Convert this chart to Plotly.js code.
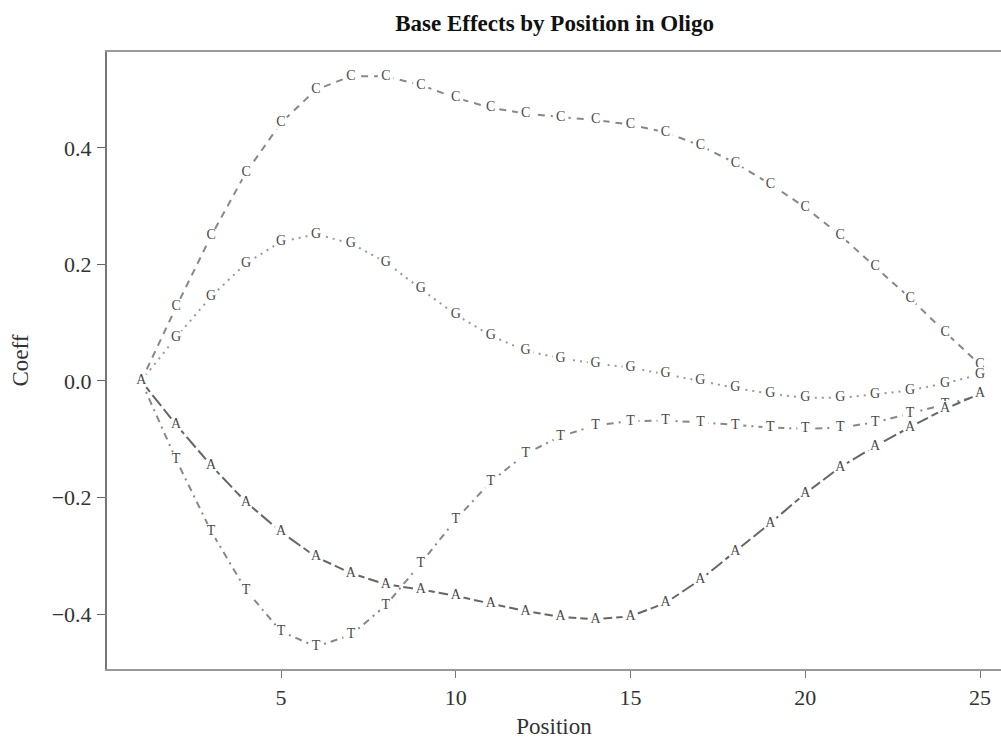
<!DOCTYPE html>
<html>
<head>
<meta charset="utf-8">
<script src="https://cdn.plot.ly/plotly-3.0.1.min.js"></script>
<style>html,body{margin:0;padding:0;background:#fff;overflow:hidden}</style>
</head>
<body>
<div id="chart" style="width:1001px;height:742px"></div>
<script>
const positions = [1,2,3,4,5,6,7,8,9,10,11,12,13,14,15,16,17,18,19,20,21,22,23,24,25];
const coefA = [0,-0.075,-0.145,-0.208,-0.259,-0.302,-0.330,-0.349,-0.358,-0.369,-0.382,-0.395,-0.405,-0.409,-0.404,-0.381,-0.341,-0.293,-0.244,-0.193,-0.148,-0.112,-0.079,-0.048,-0.022];
const coefC = [0,0.127,0.249,0.358,0.443,0.500,0.523,0.523,0.508,0.486,0.469,0.459,0.453,0.448,0.440,0.427,0.404,0.374,0.338,0.298,0.250,0.196,0.142,0.084,0.028];
const coefG = [0,0.075,0.145,0.202,0.239,0.252,0.236,0.204,0.158,0.114,0.078,0.052,0.039,0.030,0.023,0.012,0.000,-0.012,-0.022,-0.029,-0.029,-0.023,-0.016,-0.004,0.011];
const coefT = [0,-0.135,-0.258,-0.359,-0.430,-0.456,-0.436,-0.385,-0.313,-0.238,-0.173,-0.125,-0.095,-0.076,-0.069,-0.068,-0.071,-0.076,-0.080,-0.082,-0.080,-0.071,-0.056,-0.040,-0.025];
const seriesNames = ['C','G','T','A'];

const serif = 'Liberation Serif, DejaVu Serif, serif';
function mk(name, y, dash, color) {
  return {
    x: positions, y: y, name: name,
    mode: 'lines+markers+text',
    text: positions.map(() => name),
    textposition: 'middle center',
    textfont: {family: serif, size: 14, color: '#4a4a4a'},
    marker: {color: 'rgba(255,255,255,1)', size: 16, symbol: 'circle', line: {width: 0}},
    line: {color: color, width: 2, dash: dash},
    cliponaxis: false,
    hoverinfo: 'x+y+name'
  };
}
const traces = [
  mk(seriesNames[0], coefC, '7px,6px', '#888'),
  mk(seriesNames[1], coefG, '2px,5px', '#999'),
  mk(seriesNames[2], coefT, '7px,5px,2px,5px', '#888'),
  mk(seriesNames[3], coefA, '14px,4px', '#666')
];
const layout = {
  width: 1001, height: 742,
  margin: {l: 107, r: 0, t: 52, b: 73, pad: 0},
  paper_bgcolor: '#fff', plot_bgcolor: '#fff',
  showlegend: false,
  title: {text: '<b>Base Effects by Position in Oligo</b>', font: {family: serif, size: 23, color: '#111'}, x: 0.554, xanchor: 'center', y: 0.969, yanchor: 'middle'},
  xaxis: {
    range: [0.0215, 25.60], tickvals: [5,10,15,20,25], ticktext: ['5','10','15','20','25'],
    showgrid: false, zeroline: false,
    showline: true, linecolor: '#999', linewidth: 2, mirror: true,
    ticks: 'outside', ticklen: 7, tickwidth: 1, tickcolor: '#777',
    ticklabelstandoff: 1,
    tickfont: {family: serif, size: 22, color: '#333'},
    title: {text: 'Position', font: {family: serif, size: 23, color: '#333'}, standoff: 8}
  },
  yaxis: {
    range: [-0.4944, 0.5647], tickvals: [-0.4,-0.2,0,0.2,0.4], ticktext: ['\u22120.4','\u22120.2','0.0','0.2','0.4'],
    showgrid: false, zeroline: false,
    showline: true, linecolor: '#777', linewidth: 2,
    ticks: 'outside', ticklen: 8, tickwidth: 1, tickcolor: '#666',
    ticklabelstandoff: 1,
    tickfont: {family: serif, size: 22, color: '#333'},
    title: {text: 'Coeff', font: {family: serif, size: 23, color: '#333'}, standoff: 17}
  }
};
Plotly.newPlot('chart', traces, layout, {displayModeBar: false, staticPlot: true});
</script>
</body>
</html>
